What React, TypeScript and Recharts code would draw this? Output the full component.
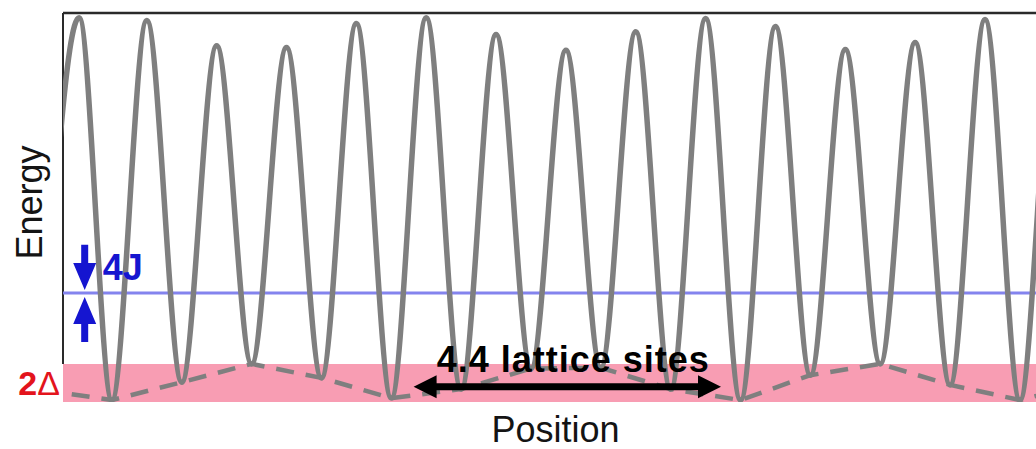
import React from 'react';
import { LineChart, Line, XAxis, YAxis, ReferenceArea, ReferenceLine } from 'recharts';

const FONT = '"Liberation Sans", Arial, Helvetica, sans-serif';

// Potential maxima: lattice site and energy
const peakSites = [-0.47, 0.5, 1.5, 2.5, 3.5, 4.5, 5.5, 6.5, 7.5, 8.5, 9.5, 10.5, 11.5, 12.5, 13.5];
const peakEnergy = [9.88, 9.81, 9.16, 9.11, 9.73, 9.88, 9.45, 9.04, 9.52, 9.86, 9.65, 9.06, 9.24, 9.83, 9.6];

// Potential minima (wells): lattice site and energy
const wellSites = [-1, 0, 1, 2, 3, 4, 5, 6, 7, 8, 9, 10, 11, 12, 13, 14];
const wellEnergy = [0.31, 0.05, 0.51, 0.98, 0.62, 0.1, 0.33, 0.86, 0.88, 0.33, 0.05, 0.69, 0.98, 0.44, 0.05, 0.5];

const siteRange: [number, number] = [-0.7, 13.23];
const energyRange: [number, number] = [0, 10];

// 2Δ spread of the well energies
const disorderBand: [number, number] = [0, 0.98];
// tunnelling level and the 4J arrows around it
const bandLevel = 2.8;
const tunnelSite = -0.39;
const tunnelDown: [number, number] = [4.04, 2.88];
const tunnelUp: [number, number] = [1.54, 2.7];

// beat period of the quasi-periodic lattice
const beatLength = 4.4;
const beatCenter = 6.52;
const beatLevel = 0.39;

const COLORS = {
  potential: '#7f7f7f',
  band: '#f89db3',
  level: '#8484ee',
  tunnel: '#1515d0',
  disorder: '#e3141c',
  frame: '#2a2a2a',
  text: '#141414',
};

type Row = { x: number; v: number };
const potentialRows: Row[] = [
  ...peakSites.map((x, i) => ({ x, v: peakEnergy[i] })),
  ...wellSites.map((x, i) => ({ x, v: wellEnergy[i] })),
].sort((a, b) => a.x - b.x);

const envelopeRows = wellSites.map((x, i) => ({ x, e: wellEnergy[i] }));

function arrowPoints(
  x1: number, y1: number, x2: number, y2: number,
  shaft: number, headLen: number, headW: number, doubleHead: boolean
): string {
  const len = Math.hypot(x2 - x1, y2 - y1) || 1;
  const ux = (x2 - x1) / len;
  const uy = (y2 - y1) / len;
  const nx = -uy;
  const ny = ux;
  const p = (t: number, w: number) => [x1 + ux * t + nx * w, y1 + uy * t + ny * w];
  const s = shaft / 2;
  const h = headW / 2;
  const pts: number[][] = [];
  if (doubleHead) pts.push(p(0, 0), p(headLen, h), p(headLen, s));
  else pts.push(p(0, s));
  pts.push(p(len - headLen, s), p(len - headLen, h), p(len, 0), p(len - headLen, -h), p(len - headLen, -s));
  if (doubleHead) pts.push(p(headLen, -s), p(headLen, -h));
  else pts.push(p(0, -s));
  return pts.map((q) => `${q[0].toFixed(1)},${q[1].toFixed(1)}`).join(' ');
}

const DownArrow = (props: any) => {
  const { x1, y1, x2, y2 } = props;
  return (
    <g>
      <polygon points={arrowPoints(x1, y1, x2, y2, 7, 27, 23, false)} fill={COLORS.tunnel} />
      <text x={x1 + 18} y={y2 - 10} fill={COLORS.tunnel} fontFamily={FONT} fontSize={36} fontWeight="bold">
        4J
      </text>
    </g>
  );
};

const UpArrow = (props: any) => {
  const { x1, y1, x2, y2 } = props;
  return <polygon points={arrowPoints(x1, y1, x2, y2, 7, 27, 23, false)} fill={COLORS.tunnel} />;
};

const BeatArrow = (props: any) => {
  const { x1, y1, x2, y2 } = props;
  return (
    <g>
      <polygon points={arrowPoints(x1, y1, x2, y2, 7, 23, 23, true)} fill="#000" />
      <text
        x={(x1 + x2) / 2 + 6}
        y={y1 - 15}
        textAnchor="middle"
        fill="#000"
        fontFamily={FONT}
        fontSize={36}
        fontWeight="bold"
        letterSpacing={1}
      >
        {`${beatLength} lattice sites`}
      </text>
    </g>
  );
};

const DisorderLabel = (props: any) => {
  const vb = props.viewBox || {};
  return (
    <text
      x={vb.x - 3}
      y={vb.y + vb.height / 2 + 12}
      textAnchor="end"
      fill={COLORS.disorder}
      fontFamily={FONT}
      fontSize={34}
    >
      <tspan fontWeight="bold">2</tspan>
      <tspan>Δ</tspan>
    </text>
  );
};

const PositionLabel = (props: any) => {
  const vb = props.viewBox || {};
  return (
    <text x={vb.x + vb.width / 2 + 6} y={vb.y + 40} textAnchor="middle" fill={COLORS.text} fontFamily={FONT} fontSize={36}>
      Position
    </text>
  );
};

const EnergyLabel = (props: any) => {
  const vb = props.viewBox || {};
  const cx = vb.x + 42;
  const cy = vb.y + vb.height / 2 - 5;
  return (
    <text x={cx} y={cy} transform={`rotate(-90 ${cx} ${cy})`} textAnchor="middle" fill={COLORS.text} fontFamily={FONT} fontSize={36}>
      Energy
    </text>
  );
};

export default function App() {
  return (
    <div style={{ position: 'absolute', left: 0, top: 0, background: '#fff' }}>
      <LineChart width={1036} height={449} margin={{ top: 13, right: 0, bottom: 0, left: 0 }}>
        <XAxis
          type="number"
          dataKey="x"
          domain={siteRange}
          allowDataOverflow
          height={47}
          axisLine={false}
          tickLine={false}
          tick={false}
          label={PositionLabel}
        />
        <YAxis
          type="number"
          domain={energyRange}
          allowDataOverflow
          width={63}
          axisLine={false}
          tickLine={false}
          tick={false}
          label={EnergyLabel}
        />
        <ReferenceArea
          y1={disorderBand[0]}
          y2={disorderBand[1]}
          fill={COLORS.band}
          fillOpacity={1}
          stroke="none"
          ifOverflow="visible"
          label={DisorderLabel}
        />
        <ReferenceLine y={energyRange[1]} stroke={COLORS.frame} strokeWidth={2.5} />
        <ReferenceLine
          segment={[
            { x: siteRange[0], y: disorderBand[1] },
            { x: siteRange[0], y: energyRange[1] },
          ]}
          stroke={COLORS.frame}
          strokeWidth={2}
        />
        <ReferenceLine y={bandLevel} stroke={COLORS.level} strokeWidth={3} />
        <Line
          data={potentialRows}
          dataKey="v"
          type="monotone"
          stroke={COLORS.potential}
          strokeWidth={5.5}
          dot={false}
          activeDot={false}
          isAnimationActive={false}
        />
        <Line
          data={envelopeRows}
          dataKey="e"
          type="linear"
          stroke={COLORS.potential}
          strokeWidth={4.5}
          strokeDasharray="18 12"
          dot={false}
          activeDot={false}
          isAnimationActive={false}
        />
        <ReferenceLine
          segment={[
            { x: tunnelSite, y: tunnelDown[0] },
            { x: tunnelSite, y: tunnelDown[1] },
          ]}
          shape={DownArrow}
        />
        <ReferenceLine
          segment={[
            { x: tunnelSite, y: tunnelUp[0] },
            { x: tunnelSite, y: tunnelUp[1] },
          ]}
          shape={UpArrow}
        />
        <ReferenceLine
          segment={[
            { x: beatCenter - beatLength / 2, y: beatLevel },
            { x: beatCenter + beatLength / 2, y: beatLevel },
          ]}
          shape={BeatArrow}
        />
      </LineChart>
    </div>
  );
}
